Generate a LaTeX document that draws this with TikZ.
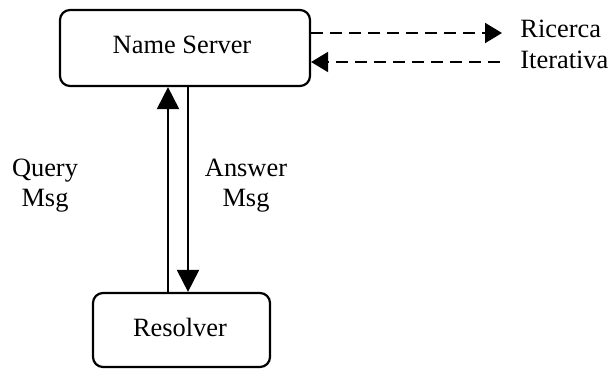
\documentclass[tikz,border=0pt]{standalone}
\usepackage{fontspec}
\setmainfont{Liberation Serif}
\usetikzlibrary{arrows.meta}
\begin{document}
\begin{tikzpicture}[x=0.5pt,y=-0.5pt,
  box/.style={draw,line width=1.1pt,rounded corners=5pt,inner sep=0pt},
  lbl/.style={inner sep=0pt,font=\fontsize{13.2}{15}\selectfont},
  arr/.style={line width=1pt,-{Triangle[length=11pt,width=11pt]}},
  darr/.style={line width=1pt,dash pattern=on 6pt off 3.5pt,-{Triangle[length=8.5pt,width=10pt]}}]
\useasboundingbox (0,0) rectangle (610,369);
\node[box,minimum width=125pt,minimum height=38pt] (ns) at (185,48) {};
\node[lbl] (nst) at (182,45) {Name Server};
\node[box,minimum width=88.5pt,minimum height=37pt] (res) at (181.5,330) {};
\node[lbl] (rest) at (180,327) {Resolver};
\coordinate (qx) at (168,0);
\coordinate (ax) at (188,0);
\draw[arr] (res.north -| qx) -- (ns.south -| qx);
\draw[arr] (ns.south -| ax) -- (res.north -| ax);
\coordinate (r1) at (502,33);
\coordinate (i1) at (500,62);
\draw[darr] (ns.east |- r1) -- (r1);
\draw[darr] (i1) -- (ns.east |- i1);
\node[lbl,anchor=west] (ric) at (520,29) {Ricerca};
\node[lbl,anchor=west] (ite) at (520,60) {Iterativa};
\node[lbl,align=center] (q) at (45,186) {Query\\Msg};
\node[lbl,align=center] (a) at (246,186) {Answer\\Msg};
\end{tikzpicture}
\end{document}
